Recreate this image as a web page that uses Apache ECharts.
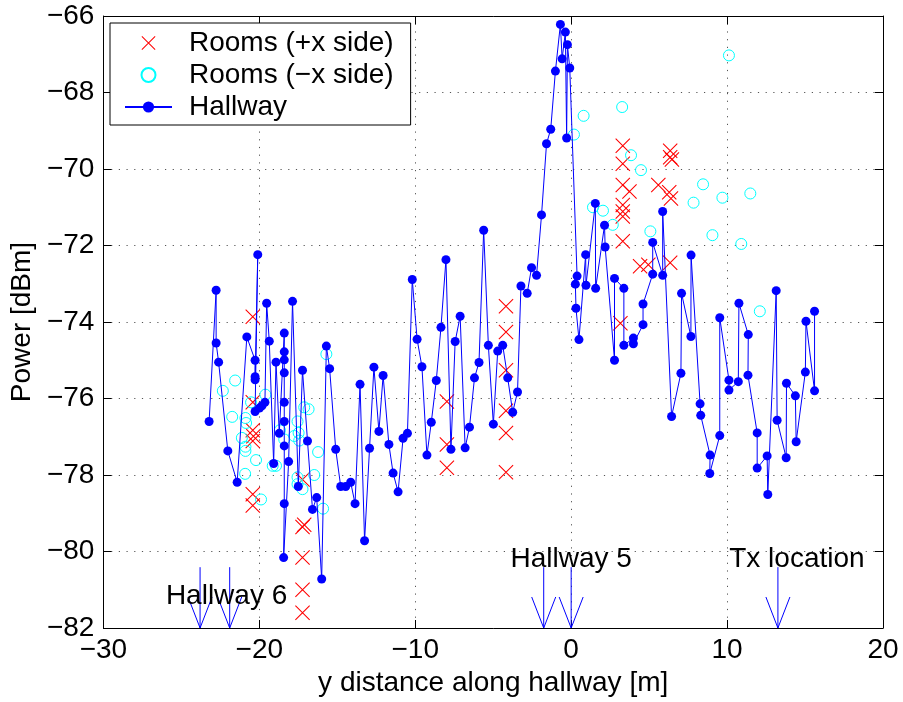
<!DOCTYPE html>
<html>
<head>
<meta charset="utf-8">
<script src="https://cdn.jsdelivr.net/npm/echarts@6/dist/echarts.min.js"></script>
<style>
html, body { margin: 0; padding: 0; background: #fff; }
#main { width: 903px; height: 702px; }
</style>
</head>
<body>
<div id="main"></div>
<script>
// measured points [y distance (m), power (dBm)]
var roomsPlus = [
    [-20.42,-73.86],[-20.42,-76.10],[-20.42,-76.83],[-20.38,-76.99],[-20.42,-77.11],[-20.42,-78.50],[-20.42,-78.80],
    [-17.23,-78.12],[-17.12,-79.30],[-17.23,-79.36],[-17.23,-80.16],[-17.23,-81.00],[-17.23,-81.60],
    [-7.97,-76.08],[-7.97,-77.20],[-7.97,-77.81],
    [-4.18,-73.59],[-4.18,-74.26],[-4.18,-75.26],[-4.18,-76.32],[-4.18,-76.90],[-4.18,-77.93],
    [3.31,-69.39],[3.31,-69.86],[3.31,-70.42],[3.74,-70.59],[3.31,-70.94],[3.31,-71.11],[3.31,-71.24],[3.31,-71.89],[3.16,-74.03],
    [4.42,-72.54],[4.95,-72.50],[5.59,-70.42],[6.35,-69.52],[6.35,-69.69],[6.46,-69.75],[6.29,-70.61],[6.40,-70.77],[6.35,-72.45]
];
var roomsMinus = [
    [-22.34,-75.80],[-21.55,-75.53],[-21.74,-76.48],[-20.89,-76.51],[-20.85,-76.64],[-21.12,-77.03],[-20.89,-77.26],[-20.89,-77.37],
    [-20.21,-77.61],[-20.91,-77.97],[-19.89,-78.64],[-20.53,-76.10],[-19.61,-75.90],[-19.14,-77.76],[-18.93,-77.76],[-18.68,-76.83],
    [-18.40,-77.07],[-17.76,-76.98],[-17.48,-76.90],[-17.55,-76.60],[-17.44,-77.10],[-17.12,-76.23],[-16.84,-76.28],[-17.55,-78.06],
    [-17.55,-78.24],[-17.23,-78.37],[-16.48,-78.00],[-16.23,-77.40],[-15.91,-78.88],[-15.70,-74.84],
    [0.18,-69.10],[0.80,-68.61],[1.40,-71.00],[2.04,-71.09],[2.67,-71.46],[3.27,-68.38],[3.84,-69.64],[4.48,-70.03],[5.08,-71.63],
    [7.85,-70.88],[8.46,-70.40],[9.70,-70.75],[9.06,-71.73],[10.12,-67.03],[10.91,-71.96],[11.49,-70.64],[12.10,-73.72]
];
var hallway = [
    [-23.22,-76.60],[-22.77,-73.17],[-22.77,-74.55],[-22.61,-75.05],[-22.02,-77.37],[-21.42,-78.19],[-20.80,-74.39],
    [-20.27,-75.00],[-20.27,-75.43],[-20.27,-75.51],[-20.10,-72.24],[-20.27,-76.34],[-19.99,-76.25],[-19.83,-76.19],
    [-19.64,-76.10],[-19.53,-73.51],[-19.36,-74.50],[-19.08,-77.70],[-18.93,-75.05],[-18.72,-76.91],[-18.40,-74.29],
    [-18.40,-74.78],[-18.40,-74.99],[-18.40,-75.33],[-18.40,-76.10],[-18.40,-76.60],[-18.40,-77.24],[-18.40,-78.75],
    [-18.44,-80.16],[-18.12,-77.65],[-17.87,-73.46],[-17.50,-78.30],[-17.23,-75.26],[-16.91,-77.11],[-16.59,-78.90],
    [-16.32,-78.59],[-16.00,-80.72],[-15.70,-74.63],[-15.49,-75.22],[-15.10,-77.33],[-14.78,-78.30],[-14.46,-78.30],
    [-14.14,-78.19],[-13.86,-78.75],[-13.54,-75.63],[-13.25,-79.72],[-12.93,-77.30],[-12.65,-75.18],[-12.33,-76.86],
    [-12.06,-75.40],[-11.69,-77.20],[-11.42,-77.95],[-11.10,-78.44],[-10.78,-77.04],[-10.50,-76.91],[-10.19,-72.89],
    [-9.88,-74.45],[-9.57,-75.17],[-9.25,-77.48],[-8.97,-76.62],[-8.65,-75.53],[-8.35,-74.14],[-8.03,-72.37],
    [-7.71,-77.33],[-7.44,-74.51],[-7.12,-73.85],[-6.80,-77.29],[-6.52,-76.75],[-6.20,-75.46],[-5.91,-75.06],
    [-5.61,-71.60],[-5.31,-74.61],[-4.99,-76.67],[-4.71,-74.76],[-4.39,-74.61],[-4.07,-75.46],[-3.75,-76.36],
    [-3.44,-75.83],[-3.22,-73.06],[-2.82,-73.25],[-2.54,-72.58],[-2.22,-72.78],[-1.90,-71.20],[-1.58,-69.34],
    [-1.31,-68.96],[-1.01,-67.44],[-0.69,-66.22],[-0.58,-67.12],[-0.37,-66.42],[-0.29,-69.19],[-0.24,-66.75],
    [-0.09,-67.36],[0.38,-72.80],[0.27,-73.01],[0.31,-73.64],[0.50,-74.46],[0.93,-72.24],[0.95,-73.04],
    [1.55,-70.90],[1.57,-73.12],[2.14,-71.47],[2.18,-72.04],[2.78,-75.00],[2.78,-72.86],[3.38,-73.12],[3.38,-74.61],
    [3.99,-74.42],[3.99,-74.57],[4.61,-74.07],[4.61,-73.53],[5.23,-72.75],[5.23,-71.92],[5.87,-72.78],[5.87,-71.11],
    [6.44,-76.47],[7.04,-75.34],[7.08,-73.25],[7.68,-74.38],[7.69,-72.25],[8.27,-76.14],[8.31,-76.44],[8.91,-77.48],
    [8.89,-77.96],[9.53,-76.97],[9.53,-73.89],[10.12,-75.52],[10.12,-75.78],[10.72,-75.56],[10.76,-73.51],
    [11.36,-74.33],[11.34,-75.39],[11.93,-76.90],[11.93,-77.82],[12.57,-77.50],[12.61,-78.51],[13.15,-73.18],
    [13.21,-76.57],[13.79,-77.55],[13.81,-75.60],[14.38,-75.93],[14.43,-77.13],[15.02,-75.31],[15.06,-73.98],
    [15.61,-75.80],[15.61,-73.72]
];
// arrows pointing at the axis
var arrowX = [-23.8, -21.9, -1.76, 0, 13.26];
var arrowTop = -80.41;
// text notes
var noteText = ['Hallway 6', 'Hallway 5', 'Tx location'];
var noteX = [-22.1, 0, 14.48];
var noteY = [-81.17, -80.2, -80.2];

var font = 'Liberation Sans, Arial, Helvetica, sans-serif';
var minus = function (v) { return String(v).replace('-', '\u2212'); };
var gridDots = { show: true, lineStyle: { color: '#555', width: 1, type: [1.2, 6.5] } };
// thin filled x-shape, so the mark needs no stroke
var crossPath = 'path://M0,0.5L0.5,0L10,9.5L9.5,10Z M9.5,0L10,0.5L0.5,10L0,9.5Z';

var myChart = echarts.init(document.getElementById('main'));
var option = {
    backgroundColor: '#fff',
    animation: false,
    textStyle: { fontFamily: font },
    grid: { left: 100, right: 20, top: 16, bottom: 68, show: false },
    legend: {
        orient: 'vertical',
        left: 110,
        top: 23,
        backgroundColor: '#fff',
        borderColor: '#000',
        borderWidth: 1,
        borderRadius: 0,
        padding: [5, 17, 3, 14],
        itemWidth: 47,
        itemHeight: 14,
        itemGap: 2,
        selectedMode: false,
        textStyle: { fontSize: 28, color: '#000', lineHeight: 30, fontFamily: font, padding: [0, 0, 0, 12] },
        data: ['Rooms (+x side)', 'Rooms (\u2212x side)', 'Hallway']
    },
    xAxis: [{
        type: 'value', min: -30, max: 20, interval: 10,
        name: 'y distance along hallway [m]', nameLocation: 'middle', nameGap: 41,
        nameTextStyle: { fontSize: 28, color: '#000' },
        axisLine: { onZero: false, lineStyle: { color: '#000', width: 1 } },
        axisTick: { inside: true, length: 8, lineStyle: { color: '#000' } },
        axisLabel: { fontSize: 28, color: '#000', margin: 8, formatter: minus },
        splitLine: gridDots
    }, {
        type: 'value', min: -30, max: 20, interval: 10, position: 'top',
        axisLine: { show: true, onZero: false, lineStyle: { color: '#000' } },
        axisTick: { inside: true, length: 8, lineStyle: { color: '#000' } },
        axisLabel: { show: false }, splitLine: { show: false }
    }],
    yAxis: [{
        type: 'value', min: -82, max: -66, interval: 2,
        name: 'Power [dBm]', nameLocation: 'middle', nameGap: 62,
        nameTextStyle: { fontSize: 28, color: '#000' },
        axisLine: { show: true, onZero: false, lineStyle: { color: '#000', width: 1 } },
        axisTick: { show: true, inside: true, length: 8, lineStyle: { color: '#000' } },
        axisLabel: { fontSize: 28, color: '#000', margin: 9, formatter: minus },
        splitLine: gridDots
    }, {
        type: 'value', min: -82, max: -66, interval: 2, position: 'right',
        axisLine: { show: true, onZero: false, lineStyle: { color: '#000' } },
        axisTick: { show: true, inside: true, length: 8, lineStyle: { color: '#000' } },
        axisLabel: { show: false }, splitLine: { show: false }
    }],
    series: [{
        name: 'Rooms (+x side)',
        type: 'scatter',
        data: roomsPlus,
        symbol: crossPath,
        symbolSize: 15,
        silent: true,
        emphasis: { disabled: true },
        itemStyle: { color: '#ff0000', opacity: 1 },
        z: 3
    }, {
        name: 'Rooms (\u2212x side)',
        type: 'scatter',
        data: roomsMinus,
        symbol: 'circle',
        symbolSize: 11,
        silent: true,
        emphasis: { disabled: true },
        itemStyle: { color: 'rgba(0,0,0,0)', borderColor: '#00ffff', borderWidth: 1, opacity: 1 },
        z: 3
    }, {
        name: 'Hallway',
        type: 'line',
        data: hallway,
        symbol: 'circle',
        symbolSize: 9,
        showSymbol: true,
        silent: true,
        emphasis: { disabled: true },
        lineStyle: { color: '#0000ff', width: 1 },
        itemStyle: { color: '#0000ff' },
        z: 4
    }, {
        type: 'custom',
        data: arrowX.map(function (x) { return [x]; }),
        clip: false,
        silent: true,
        renderItem: function (params, api) {
            var x = api.value(0);
            var p0 = api.coord([x, arrowTop]);
            var p1 = api.coord([x, -82]);
            var st = { stroke: '#0000ff', lineWidth: 1 };
            return {
                type: 'group',
                children: [
                    { type: 'line', shape: { x1: p0[0], y1: p0[1], x2: p1[0], y2: p1[1] }, style: st },
                    { type: 'line', shape: { x1: p1[0] - 12, y1: p1[1] - 31, x2: p1[0], y2: p1[1] }, style: st },
                    { type: 'line', shape: { x1: p1[0] + 12, y1: p1[1] - 31, x2: p1[0], y2: p1[1] }, style: st }
                ]
            };
        },
        z: 5
    }, {
        type: 'custom',
        data: noteX.map(function (x, i) { return [x, noteY[i], i]; }),
        clip: false,
        silent: true,
        renderItem: function (params, api) {
            var p = api.coord([api.value(0), api.value(1)]);
            return {
                type: 'text',
                x: p[0], y: p[1],
                style: {
                    text: noteText[api.value(2)],
                    fill: '#000',
                    font: '28px ' + font,
                    align: 'center',
                    verticalAlign: 'middle'
                }
            };
        },
        z: 6
    }]
};
myChart.setOption(option);
</script>
</body>
</html>
